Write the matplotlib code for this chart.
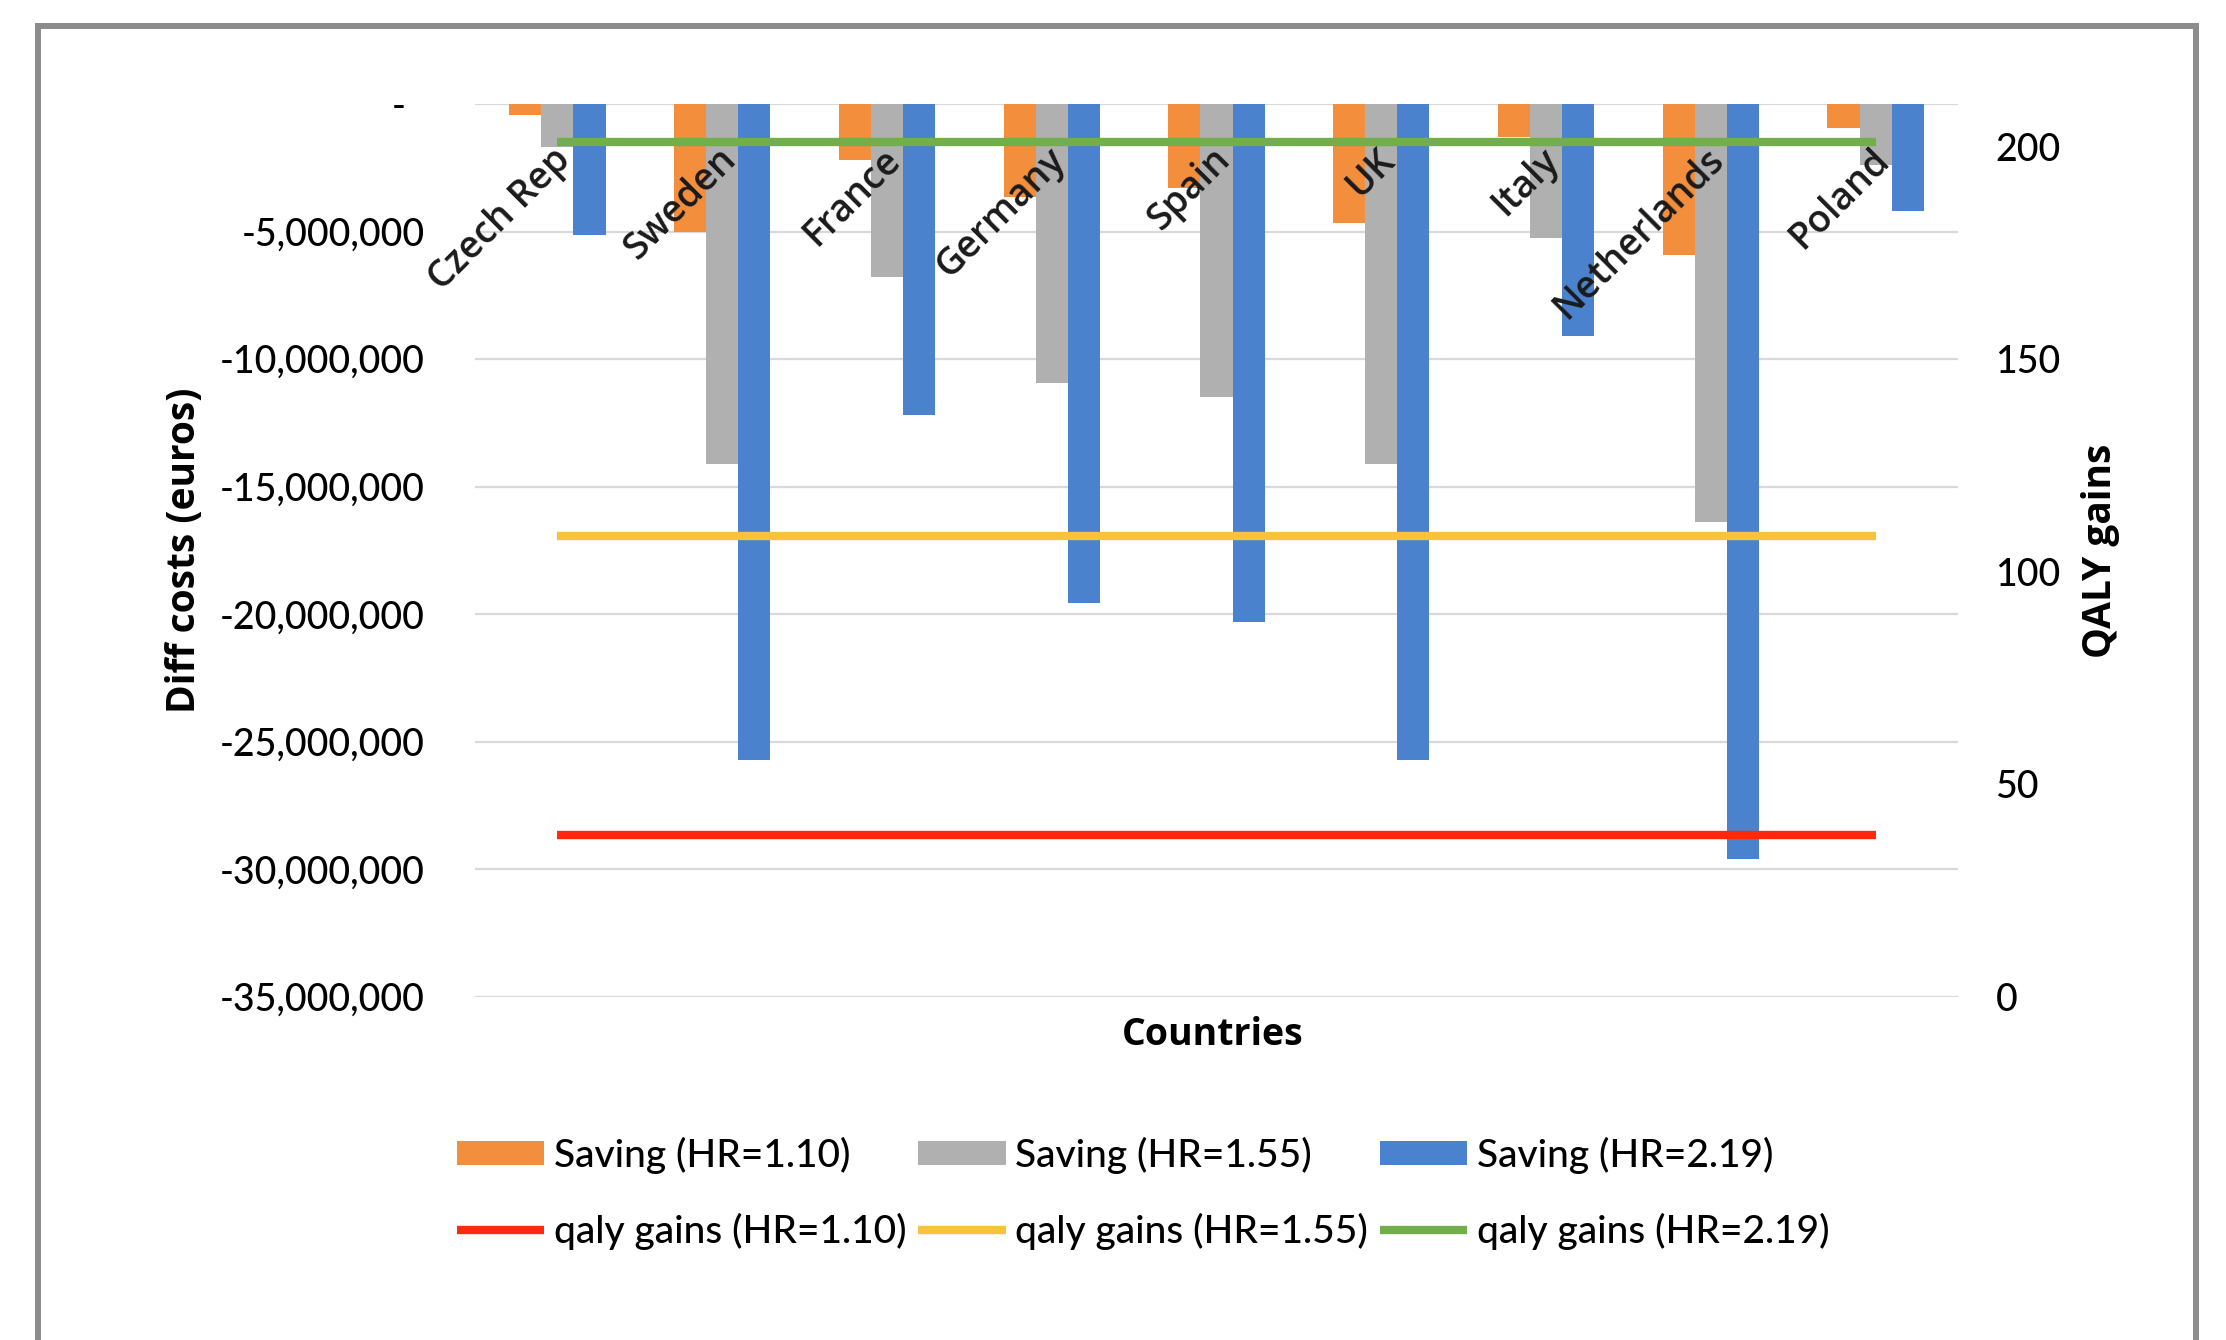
import matplotlib
matplotlib.use("Agg")
import matplotlib.pyplot as plt
import numpy as np
from matplotlib.patches import Rectangle
from matplotlib.ticker import FuncFormatter

countries = ["Czech Rep", "Sweden", "France", "Germany", "Spain", "UK", "Italy", "Netherlands", "Poland"]
saving_110 = [-0.44e6, -5.0e6, -2.2e6, -3.65e6, -3.3e6, -4.65e6, -1.3e6, -5.9e6, -0.93e6]
saving_155 = [-1.7e6, -14.1e6, -6.8e6, -10.95e6, -11.5e6, -14.1e6, -5.25e6, -16.4e6, -2.4e6]
saving_219 = [-5.15e6, -25.7e6, -12.2e6, -19.55e6, -20.3e6, -25.7e6, -9.1e6, -29.6e6, -4.2e6]
qaly_110 = [38, 38, 38, 38, 38, 38, 38, 38, 38]
qaly_155 = [108.5, 108.5, 108.5, 108.5, 108.5, 108.5, 108.5, 108.5, 108.5]
qaly_219 = [201, 201, 201, 201, 201, 201, 201, 201, 201]

tick_font = ["Lato", "DejaVu Sans"]
title_font = ["Open Sans", "DejaVu Sans"]

fig = plt.figure(figsize=(22.26, 13.40), dpi=100)
ax = fig.add_axes([0.2134, 0.256, 0.6662, 0.6664])
ax2 = ax.twinx()

x = np.arange(len(countries))
w = 0.195
b1 = ax.bar(x - w, saving_110, w, color="#F28E3C", label="Saving (HR=1.10)")
b2 = ax.bar(x, saving_155, w, color="#B0B0B0", label="Saving (HR=1.55)")
b3 = ax.bar(x + w, saving_219, w, color="#4A82CE", label="Saving (HR=2.19)")

l1, = ax2.plot(x, qaly_110, color="#FF2A0A", lw=6, solid_capstyle="butt", label="qaly gains (HR=1.10)")
l2, = ax2.plot(x, qaly_155, color="#F9C23C", lw=6, solid_capstyle="butt", label="qaly gains (HR=1.55)")
l3, = ax2.plot(x, qaly_219, color="#72AE4A", lw=6, solid_capstyle="butt", label="qaly gains (HR=2.19)")

ax.set_xlim(-0.5, len(countries) - 0.5)
ax.set_ylim(-35e6, 0)
ax.set_yticks(np.arange(-35e6, 1, 5e6))
ax.yaxis.set_major_formatter(FuncFormatter(lambda v, p: "-  " if v == 0 else f"{v:,.0f}"))
ax2.set_ylim(0, 210)
ax2.set_yticks([0, 50, 100, 150, 200])

ax.grid(axis="y", color="#D9D9D9", lw=1.6)
ax.set_axisbelow(True)
ax.set_xticks([])
for a in (ax, ax2):
    for s in a.spines.values():
        s.set_visible(False)
ax.tick_params(axis="y", length=0, pad=36)
ax2.tick_params(axis="y", length=0, pad=27)
for lab in ax.get_yticklabels() + ax2.get_yticklabels():
    lab.set_fontfamily(tick_font)
    lab.set_fontsize(27)
    lab.set_fontweight("medium")

# category labels sit inside the plot, just under the zero line
for i, name in enumerate(countries):
    ax.annotate(name, xy=(i, 0), xytext=(8, -50), textcoords="offset pixels",
                rotation=45, rotation_mode="anchor", ha="right", va="center",
                fontsize=27, fontweight="semibold", fontfamily=title_font, color="#1a1a1a")

ax.set_ylabel("Diff costs (euros)", fontsize=28, fontweight="bold", fontfamily=title_font)
ax2.set_ylabel("QALY gains", fontsize=28, fontweight="bold", fontfamily=title_font)
ax.yaxis.set_label_coords(-0.183, 0.5)
ax2.yaxis.set_label_coords(1.083, 0.5)
fig.text(0.545, 1 - 1035 / 1340, "Countries", ha="center", va="center",
         fontsize=27, fontweight="bold", fontfamily=title_font)

handles = [b1, l1, b2, l2, b3, l3]
fig.legend(handles, [h.get_label() for h in handles], ncol=3, loc="center",
           bbox_to_anchor=(0.5135, 0.1095), frameon=False,
           prop={"family": tick_font, "size": 28, "weight": "medium"}, handlelength=2.25,
           handleheight=0.6, handletextpad=0.25, columnspacing=0.3, labelspacing=1.0)

fig.patches.append(Rectangle((0.01707, -0.05), 0.96945, 1.0306, transform=fig.transFigure,
                             fill=False, edgecolor="#8C8C8C", lw=4.3))

fig.savefig("out.png", dpi=100)
